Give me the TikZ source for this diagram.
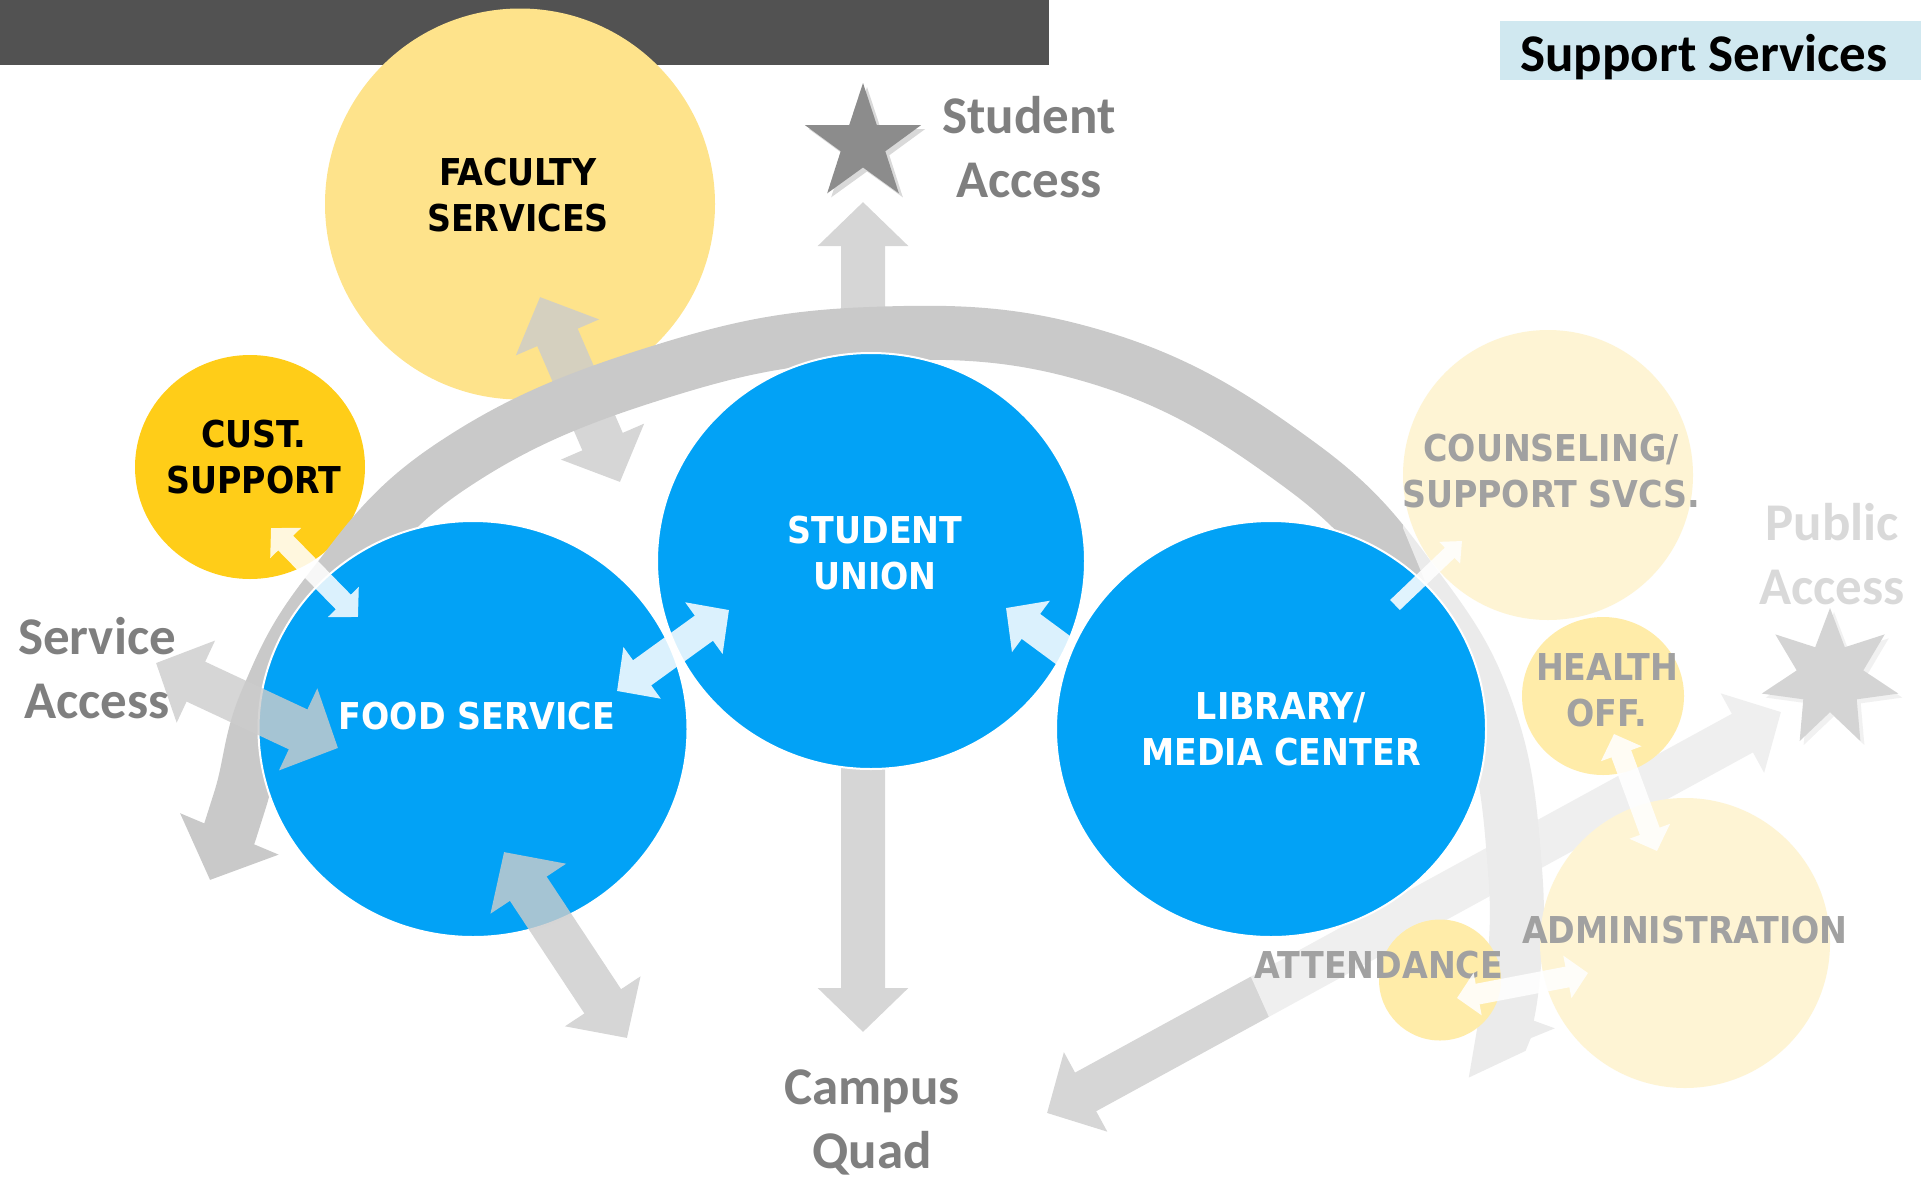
\documentclass[tikz,border=0pt]{standalone}
\usepackage{fontspec}
\usepackage{tikz}
\usetikzlibrary{shapes.geometric}
\usetikzlibrary{arrows.meta}
\usetikzlibrary{shadows}
\newfontfamily\boxfont{DejaVu Sans Condensed Bold}
\newfontfamily\tagfont{Carlito Bold}

\definecolor{barGray}{HTML}{525252}
\definecolor{titleBlue}{HTML}{D0E8F0}
\definecolor{facYellow}{HTML}{FEE38B}
\definecolor{custYellow}{HTML}{FFCD18}
\definecolor{hubBlue}{HTML}{02A2F6}
\definecolor{arcGray}{HTML}{C9C9C9}
\definecolor{arrGray}{HTML}{CCCCCC}
\definecolor{tagGray}{HTML}{7F7F7F}
\definecolor{starGray}{HTML}{8C8C8C}

\begin{document}
\begin{tikzpicture}[x=1pt, y=-1pt,
    bubble/.style={ellipse, inner sep=0pt, fill=hubBlue, draw=white, line width=2pt},
    faded/.style={ellipse, inner sep=0pt},
    boxtxt/.style={font=\boxfont\fontsize{37}{46}\selectfont, align=center, anchor=base, inner sep=0pt},
    tagtxt/.style={font=\tagfont\fontsize{53}{64}\selectfont, text=tagGray, align=center, anchor=base, inner sep=0pt},
    gryone/.style={draw=arrGray, line width=44pt, -{Triangle[width=88pt,length=44pt]}},
    grytwo/.style={draw=arrGray, line width=44pt, {Triangle[width=88pt,length=44pt]}-{Triangle[width=88pt,length=44pt]}},
    widetwo/.style={draw=white, line width=31pt, {Triangle[width=62pt,length=31pt]}-{Triangle[width=62pt,length=31pt]}},
    wideone/.style={draw=white, line width=31pt, -{Triangle[width=62pt,length=31pt]}},
    thintwo/.style={draw=white, line width=21pt, {Triangle[width=42pt,length=21pt]}-{Triangle[width=42pt,length=21pt]}},
    thinone/.style={draw=white, line width=14pt, -{Triangle[width=29pt,length=17pt]}},
    shade/.style={drop shadow={shadow xshift=4pt, shadow yshift=-4pt, opacity=.3}}
  ]
  \useasboundingbox (0,0) rectangle (1921,1178);

  % header
  \fill[barGray] (0,0) rectangle (1049,65);
  \node[fill=titleBlue, minimum width=421pt, minimum height=59pt, inner sep=0pt] (ttlbox) at (1710.5,50.5) {};
  \node[tagtxt, text=black] (ttl) at (1704,71) {Support Services};

  % yellow circles on the left
  \node[faded, fill=facYellow, minimum width=390pt, minimum height=391pt] (faculty) at (520,204) {};
  \node[faded, fill=custYellow, minimum width=230pt, minimum height=224pt] (cust) at (250,467) {};
  \node[boxtxt] (facultyTxt) at (518,231) {FACULTY\\SERVICES};
  \node[boxtxt] (custTxt) at (254,493) {CUST.\\SUPPORT};

  % gray arrows below the arc
  \coordinate (facA) at (540,297);
  \coordinate (facB) at (620,482);
  \coordinate (upFoot) at (863,340);
  \coordinate (upTip) at (863,202);
  \coordinate (dnFoot) at (863,700);
  \coordinate (dnTip) at (863,1032);
  \coordinate (lngA) at (1047,1113);
  \coordinate (lngB) at (1781,712);
  \begin{scope}[transparency group, opacity=.81]
    \draw[grytwo] (facA) -- (facB);
    \draw[gryone] (upFoot) -- (upTip);
    \draw[gryone] (dnFoot) -- (dnTip);
    \draw[grytwo] (lngA) -- (lngB);
  \end{scope}

  % the big arc
  \coordinate (arcL) at (210,880);
  \coordinate (arcR) at (1497,1052);
  \draw[draw=arcGray, line width=54pt, {Triangle[width=104pt,length=50pt]}-{Triangle[width=90pt,length=42pt]}]
    plot[smooth, tension=.7] coordinates {(arcL) (240,800) (267,700) (330,590) (450,467) (650,375) (870,334)
      (1100,358) (1300,465) (1420,592) (1490,720) (1515,870) (1512,985) (arcR)};

  % right group (faded)
  \node[faded, fill=facYellow, minimum size=290pt] (counsel) at (1548,475) {};
  \node[faded, fill=custYellow, minimum width=162pt, minimum height=158pt] (health) at (1603,696) {};
  \node[faded, fill=facYellow, minimum size=290pt] (admin) at (1685,943) {};
  \node[faded, fill=custYellow, minimum width=122pt, minimum height=121pt] (attend) at (1440,980) {};
  \node[boxtxt] (counselTxt) at (1551,507) {COUNSELING/\\SUPPORT SVCS.};
  \node[boxtxt] (healthTxt) at (1607,726) {HEALTH\\OFF.};
  \node[boxtxt] (adminTxt) at (1685,943) {ADMINISTRATION};
  \node[boxtxt] (attendTxt) at (1379,978) {ATTENDANCE};
  \node[star, star points=7, star point ratio=2.05, minimum size=140pt, inner sep=0pt, fill=starGray, shade] (pubStar) at (1830,678) {};
  \node[tagtxt, text={rgb,255:red,153;green,153;blue,153}] (pubTxt) at (1832,604) {Public\\Access};
  \fill[white, opacity=.63] (1341,1178) -- (1260,997) -- (1238,948) -- (1320,640) -- (1425,581)
    -- (1403,528) -- (1403,250) -- (1921,250) -- (1921,1178) -- cycle;

  % blue hubs
  \node[bubble, minimum width=429pt, minimum height=416pt] (food) at (473,729) {};
  \node[bubble, minimum width=428pt, minimum height=416pt] (union) at (871,561) {};

  \coordinate (svcA) at (156,663);
  \coordinate (svcB) at (338,748);
  \coordinate (fbA) at (504,852);
  \coordinate (fbB) at (627,1038);
  \begin{scope}[transparency group, opacity=.81]
    \draw[grytwo] (svcA) -- (svcB);
    \draw[grytwo] (fbA) -- (fbB);
  \end{scope}

  \coordinate (csA) at (271,528);
  \coordinate (csB) at (358,617);
  \coordinate (fuA) at (617,691);
  \coordinate (fuB) at (729,610);
  \coordinate (luFoot) at (1090,670);
  \coordinate (luTip) at (1006,608);
  \begin{scope}[transparency group, opacity=.86]
    \draw[thintwo] (csA) -- (csB);
    \draw[widetwo] (fuA) -- (fuB);
    \draw[wideone] (luFoot) -- (luTip);
  \end{scope}

  \node[bubble, minimum width=430pt, minimum height=416pt] (library) at (1271,729) {};

  \coordinate (lcFoot) at (1395,605);
  \coordinate (lcTip) at (1462,541);
  \coordinate (haA) at (1614,734);
  \coordinate (haB) at (1657,851);
  \coordinate (aaA) at (1457,998);
  \coordinate (aaB) at (1588,973);
  \begin{scope}[transparency group, opacity=.88]
    \draw[thinone] (lcFoot) -- (lcTip);
    \draw[thintwo] (haA) -- (haB);
    \draw[thintwo] (aaA) -- (aaB);
  \end{scope}

  % labels
  \node[boxtxt, text=white] (foodTxt) at (477,729) {FOOD SERVICE};
  \node[boxtxt, text=white] (unionTxt) at (875,589) {STUDENT\\UNION};
  \node[boxtxt, text=white] (libraryTxt) at (1281,765) {LIBRARY/\\MEDIA CENTER};

  \node[star, star points=5, star point ratio=2.6, minimum size=122pt, inner sep=0pt, fill=starGray, shade] (stuStar) at (863,144) {};
  \node[tagtxt] (stuTxt) at (1029,197) {Student\\Access};
  \node[tagtxt] (svcTxt) at (97,718) {Service\\Access};
  \node[tagtxt] (quadTxt) at (872,1168) {Campus\\Quad};
\end{tikzpicture}
\end{document}
